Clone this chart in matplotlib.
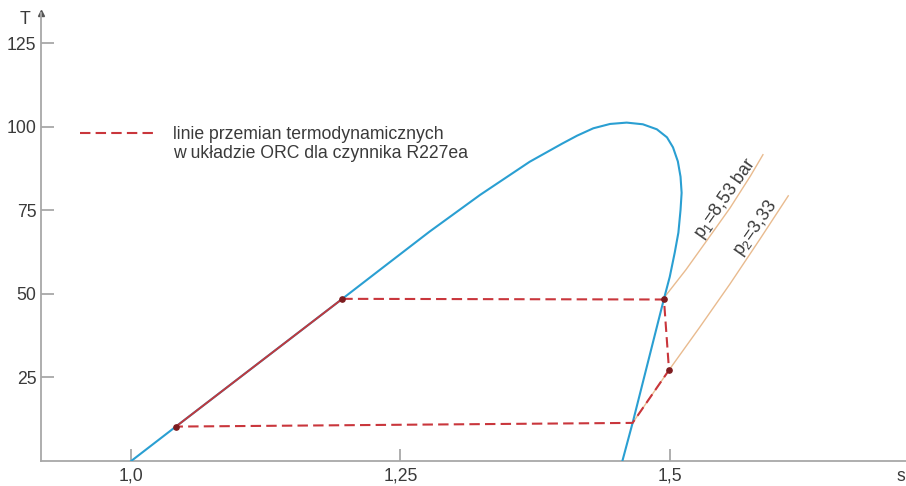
import numpy as np
import matplotlib
matplotlib.use("Agg")
import matplotlib.pyplot as plt
from matplotlib.lines import Line2D

plt.rcParams['font.family'] = ['Liberation Sans', 'DejaVu Sans']
plt.rcParams['mathtext.fontset'] = 'custom'
plt.rcParams['mathtext.rm'] = 'Liberation Sans'
plt.rcParams['mathtext.it'] = 'Liberation Sans'

# krzywa nasycenia
s_dome = [1.000, 1.0415, 1.196, 1.231, 1.277, 1.324, 1.370, 1.400, 1.414, 1.429, 1.4446,
          1.460, 1.475, 1.488, 1.4974, 1.503, 1.5075, 1.510, 1.511, 1.510, 1.508,
          1.5046, 1.500, 1.4946, 1.4655, 1.456]
T_dome = [0.0, 10.3, 48.5, 57.2, 68.6, 79.6, 89.5, 94.9, 97.3, 99.5, 100.8,
          101.2, 100.7, 99.2, 96.8, 93.8, 89.6, 85.0, 80.2, 75.1, 68.3,
          62.3, 55.1, 48.5, 11.4, 0.0]

# izobary
s_p1 = [1.4946, 1.515, 1.535, 1.556, 1.575, 1.5865]
T_p1 = [48.8, 57.2, 66.2, 75.7, 85.3, 91.6]
s_p2 = [1.4655, 1.4993, 1.528, 1.556, 1.584, 1.610]
T_p2 = [11.4, 27.2, 40.1, 53.0, 66.5, 79.3]

# punkty obiegu ORC
s_pkt = [1.0415, 1.196, 1.4946, 1.4993]
T_pkt = [10.3, 48.5, 48.5, 27.2]
# przemiany przerywane: 2 -> 3 -> 4 -> 5 -> 1
s_obieg = [1.196, 1.4946, 1.4993, 1.4655, 1.0415]
T_obieg = [48.5, 48.3, 27.2, 11.4, 10.3]

niebieski = '#2a9fd2'
czerwony = '#c9363c'
pomaranczowy = '#e9bb8f'
szary = '#a8a8a8'
tekst = '#3a3a3a'
rozmiar = 12.7

fig = plt.figure(figsize=(9.06, 4.86), dpi=100)
ax = fig.add_axes([0.0449, 0.0514, 0.9551, 0.922])
ax.set_xlim(0.916, 1.7193)
ax.set_ylim(0, 134)

ax.plot(s_p1, T_p1, color=pomaranczowy, lw=1.0, zorder=2)
ax.plot(s_p2, T_p2, color=pomaranczowy, lw=1.0, zorder=2)
ax.plot(s_dome, T_dome, color=niebieski, lw=1.5, zorder=3, solid_joinstyle='round')
# odcinek 1-2 wzdluz lewej galezi
ax.plot(s_pkt[:2], T_pkt[:2], color='#c0393d', lw=1.4, zorder=4)
ax.plot(s_obieg, T_obieg, color=czerwony, lw=1.5, dashes=(5, 2.5), zorder=4)
ax.plot(s_pkt, T_pkt, 'o', color='#7d1c1f', ms=3.8, zorder=5)

ax.text(1.5513, 78.4, r'p$_1$=8,53 bar', rotation=55, ha='center', va='center',
        rotation_mode='anchor', fontsize=rozmiar, color=tekst)
ax.text(1.5792, 69.5, r'p$_2$=3,33', rotation=55, ha='center', va='center',
        rotation_mode='anchor', fontsize=rozmiar, color=tekst)

# osie
for k in ['top', 'right']:
    ax.spines[k].set_visible(False)
ax.spines['left'].set_color(szary)
ax.spines['bottom'].set_color(szary)
ax.spines['left'].set_linewidth(1.3)
ax.spines['bottom'].set_linewidth(1.3)
ax.set_xticks([1.0, 1.25, 1.5])
ax.set_xticklabels(['1,0', '1,25', '1,5'])
ax.set_yticks([25, 50, 75, 100, 125])
ax.set_yticklabels(['25', '50', '75', '100', '125'])
ax.tick_params(direction='in', length=9, width=1.3, color=szary, labelsize=rozmiar,
               labelcolor=tekst)
ax.tick_params(axis='x', pad=5)
ax.tick_params(axis='y', pad=3)
ax.plot(0, 1, marker='^', ms=4.5, color='#555555', transform=ax.transAxes, clip_on=False)

fig.text(25 / 906, 1 - 20 / 486, 'T', ha='center', va='center', fontsize=rozmiar, color=tekst)
fig.text(901 / 906, 1 - 476 / 486, 's', ha='center', va='center', fontsize=rozmiar, color=tekst)

# legenda
fig.add_artist(Line2D([80 / 906, 158 / 906], [1 - 133 / 486, 1 - 133 / 486],
                      color=czerwony, lw=1.5, dashes=(5, 2.5)))
fig.text(173 / 906, 1 - 139 / 486, 'linie przemian termodynamicznych',
         ha='left', va='baseline', fontsize=rozmiar, color=tekst)
fig.text(173 / 906, 1 - 158 / 486, 'w układzie ORC dla czynnika R227ea',
         ha='left', va='baseline', fontsize=rozmiar, color=tekst)

fig.savefig('out.png', dpi=100, facecolor='white')
